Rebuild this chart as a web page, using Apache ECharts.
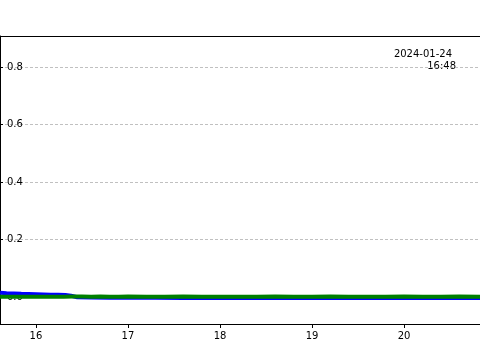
<!DOCTYPE html>
<html><head><meta charset="utf-8">
<script src="https://cdn.jsdelivr.net/npm/echarts@6/dist/echarts.min.js"></script>
<style>html,body{margin:0;padding:0;background:#fff}#c{width:480px;height:360px}</style>
</head><body><div id="c"></div>
<script>
const dayTicks = [16, 17, 18, 19, 20];
const yTicks = [0.0, 0.2, 0.4, 0.6, 0.8];
const blueX = [15.61, 15.68, 15.76, 15.84, 15.92, 16.0, 16.08, 16.16, 16.24, 16.32, 16.38, 16.45, 16.6, 16.8, 17.0, 17.3, 17.6, 17.9, 18.2, 18.5, 18.8, 19.1, 19.4, 19.7, 20.0, 20.3, 20.6, 20.83];
const blueY = [0.0145, 0.013, 0.012, 0.011, 0.0105, 0.0098, 0.009, 0.0082, 0.0075, 0.0068, 0.0045, -0.001, -0.002, -0.0025, -0.003, -0.003, -0.0032, -0.003, -0.0033, -0.0032, -0.0034, -0.0033, -0.0035, -0.0034, -0.0035, -0.0035, -0.0036, -0.0036];
const greenX = [15.61, 15.7, 15.8, 15.9, 16.0, 16.1, 16.2, 16.3, 16.4, 16.5, 16.6, 16.7, 16.8, 16.9, 17.0, 17.2, 17.4, 17.6, 17.8, 18.0, 18.2, 18.4, 18.6, 18.8, 19.0, 19.2, 19.4, 19.6, 19.8, 20.0, 20.2, 20.4, 20.6, 20.83];
const greenY = [0.0012, 0.001, 0.0011, 0.0009, 0.001, 0.0012, 0.0011, 0.001, 0.0013, 0.0014, 0.0012, 0.0013, 0.0011, 0.0012, 0.0013, 0.0012, 0.0011, 0.0013, 0.0012, 0.0011, 0.001, 0.0012, 0.0013, 0.0011, 0.0012, 0.0013, 0.0012, 0.0011, 0.0012, 0.0013, 0.0011, 0.0012, 0.0013, 0.0012];
const stampDate = '2024-01-24';
const stampTime = '16:48';

const pair = (xs, ys) => xs.map((x, i) => [x, ys[i]]);
const font = 'DejaVu Sans';
const chart = echarts.init(document.getElementById('c'));
chart.setOption({
  animation: false,
  grid: {left: 0, right: 0, top: 36, bottom: 36, show: false},
  xAxis: [{
    type: 'value', min: 15.609, max: 20.826,
    axisLine: {show: true, onZero: false, lineStyle: {color: '#000'}},
    axisTick: {show: true, inside: false, length: 4, lineStyle: {color: '#000'}, customValues: dayTicks},
    axisLabel: {fontFamily: font, fontSize: 10, color: '#000', margin: 7, customValues: dayTicks, formatter: v => String(v)},
    splitLine: {show: false}
  }, {
    type: 'value', position: 'top', min: 15.609, max: 20.826,
    axisLine: {show: true, onZero: false, lineStyle: {color: '#000'}},
    axisTick: {show: false}, axisLabel: {show: false}, splitLine: {show: false}
  }],
  yAxis: {
    type: 'value', min: -0.094, max: 0.908,
    axisLine: {show: true, onZero: false, lineStyle: {color: '#000'}},
    axisTick: {show: true, inside: true, length: 3, lineStyle: {color: '#000'}, customValues: yTicks},
    axisLabel: {inside: true, fontFamily: font, fontSize: 10, color: '#000', margin: 7, customValues: yTicks, formatter: v => v.toFixed(1)},
    splitLine: {show: true, lineStyle: {color: '#b0b0b0', type: [3, 2], width: 0.8}}
  },
  graphic: [
    {type: 'text', right: 28, top: 49, style: {text: stampDate, font: '10px "DejaVu Sans"', fill: '#000'}},
    {type: 'text', right: 24, top: 61, style: {text: stampTime, font: '10px "DejaVu Sans"', fill: '#000'}}
  ],
  series: [
    {type: 'line', data: pair(blueX, blueY), showSymbol: false, lineStyle: {color: '#0000ff', width: 4}, z: 2},
    {type: 'line', data: pair(greenX, greenY), showSymbol: false, lineStyle: {color: '#008000', width: 4}, z: 3}
  ]
});
</script></body></html>
